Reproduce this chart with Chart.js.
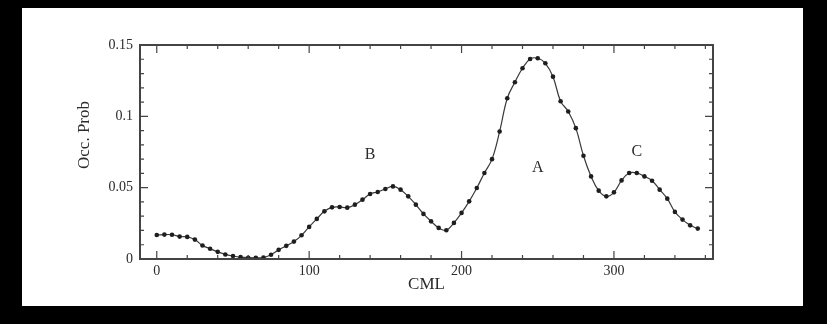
<!DOCTYPE html>
<html><head><meta charset="utf-8">
<script src="https://cdn.jsdelivr.net/npm/chart.js@4.4.1/dist/chart.umd.min.js"></script>
<style>html,body{margin:0;padding:0;background:#000;} #wrap{width:827px;height:324px;position:relative;} canvas{display:block;filter:blur(0.45px);}</style>
</head><body><div id="wrap"><canvas id="c" width="827" height="324" style="width:827px;height:324px"></canvas></div>
<script>
const cml = [0,5,10,15,20,25,30,35,40,45,50,55,60,65,70,75,80,85,90,95,
  100,105,110,115,120,125,130,135,140,145,150,155,160,165,170,175,180,185,190,195,
  200,205,210,215,220,225,230,235,240,245,250,255,260,265,270,275,280,285,290,295,
  300,305,310,315,320,325,330,335,340,345,350,355];
const occProb = [0.0168,0.0171,0.0170,0.0157,0.0155,0.0136,0.0095,0.0072,0.0050,0.0032,
  0.0021,0.0013,0.0009,0.0008,0.0010,0.0030,0.0064,0.0092,0.0122,0.0166,
  0.0225,0.0281,0.0334,0.0362,0.0365,0.0360,0.0381,0.0416,0.0456,0.0470,
  0.0491,0.0509,0.0486,0.0439,0.0381,0.0316,0.0264,0.0218,0.0201,0.0253,
  0.0323,0.0404,0.0498,0.0603,0.0700,0.0894,0.1127,0.1239,0.1337,0.1402,
  0.1407,0.1372,0.1278,0.1106,0.1034,0.0917,0.0724,0.0579,0.0479,0.0439,
  0.0467,0.0551,0.0603,0.0603,0.0579,0.0549,0.0486,0.0423,0.0330,0.0276,
  0.0236,0.0213];
const xTickLabels = [0,100,200,300];
const xMinorTicks = [0,20,40,60,80,100,120,140,160,180,200,220,240,260,280,300,320,340,360];
const yTickLabels = [0,0.05,0.1,0.15];
const yMinorTicks = [0,0.01,0.02,0.03,0.04,0.05,0.06,0.07,0.08,0.09,0.1,0.11,0.12,0.13,0.14,0.15];
const peakNames = ['A','B','C'];
const peakCml = [250,140,315];
const peakProb = [0.064,0.073,0.075];

const INK = '#2b2b2b';
const SERIF = '"Liberation Serif", "Times New Roman", serif';

const frame = {
  id: 'frame',
  beforeDraw(chart) {
    const {ctx, width, height} = chart;
    ctx.save();
    ctx.fillStyle = '#000';
    ctx.fillRect(0, 0, width, height);
    ctx.fillStyle = '#fff';
    ctx.fillRect(22, 8, 781, 298);
    ctx.restore();
  },
  afterDatasetsDraw(chart) {
    const {ctx, chartArea: {left, right, top, bottom}, scales: {x, y}} = chart;
    ctx.save();
    ctx.strokeStyle = '#444';
    ctx.lineWidth = 2;
    ctx.strokeRect(left, top, right - left, bottom - top);
    ctx.lineWidth = 1.2;
    ctx.beginPath();
    x.ticks.forEach(t => {
      const v = t.value;
      const px = x.getPixelForValue(v);
      const len = xTickLabels.includes(v) ? 8 : 4;
      ctx.moveTo(px, bottom); ctx.lineTo(px, bottom - len);
      ctx.moveTo(px, top); ctx.lineTo(px, top + len);
    });
    y.ticks.forEach(t => {
      const py = y.getPixelForValue(t.value);
      const len = yTickLabels.some(l => Math.abs(l - t.value) < 1e-9) ? 8 : 4;
      ctx.moveTo(left, py); ctx.lineTo(left + len, py);
      ctx.moveTo(right, py); ctx.lineTo(right - len, py);
    });
    ctx.stroke();
    ctx.fillStyle = INK;
    ctx.font = '16px ' + SERIF;
    ctx.textAlign = 'center';
    ctx.textBaseline = 'middle';
    peakNames.forEach((n, i) => {
      ctx.fillText(n, x.getPixelForValue(peakCml[i]), y.getPixelForValue(peakProb[i]));
    });
    ctx.restore();
  }
};

new Chart(document.getElementById('c'), {
  type: 'line',
  data: {
    datasets: [{
      data: cml.map((c, i) => ({x: c, y: occProb[i]})),
      borderColor: '#3a3a3a',
      borderWidth: 1.2,
      tension: 0.4,
      pointRadius: 2.3,
      pointBackgroundColor: '#1e1e1e',
      pointBorderWidth: 0,
      fill: false
    }]
  },
  plugins: [frame],
  options: {
    responsive: false,
    animation: false,
    devicePixelRatio: 1,
    layout: {padding: {left: 0, top: 45, right: 114, bottom: 0}},
    plugins: {legend: {display: false}, tooltip: {enabled: false}},
    scales: {
      x: {
        type: 'linear', min: -11, max: 365,
        afterBuildTicks(s) { s.ticks = xMinorTicks.map(v => ({value: v})); },
        afterFit(s) { s.height = 65; },
        ticks: {
          padding: 4, color: INK, maxRotation: 0, autoSkip: false,
          font: {family: SERIF, size: 14},
          callback: v => xTickLabels.includes(v) ? String(v) : ''
        },
        grid: {display: false, drawTicks: false},
        border: {display: false},
        title: {display: true, text: 'CML', color: INK, font: {family: SERIF, size: 17}, padding: {top: 0, bottom: 29}}
      },
      y: {
        type: 'linear', min: 0, max: 0.15,
        afterBuildTicks(s) { s.ticks = yMinorTicks.map(v => ({value: v})); },
        afterFit(s) { s.width = 140; },
        ticks: {
          padding: 7, color: INK, autoSkip: false,
          font: {family: SERIF, size: 14},
          callback: v => {
            const m = yTickLabels.find(t => Math.abs(t - v) < 1e-9);
            return m === undefined ? '' : String(m);
          }
        },
        grid: {display: false, drawTicks: false},
        border: {display: false},
        title: {display: true, text: '        Occ. Prob', color: INK, font: {family: SERIF, size: 17}, padding: {top: 74, bottom: 0}}
      }
    }
  }
});
</script>
</body></html>
